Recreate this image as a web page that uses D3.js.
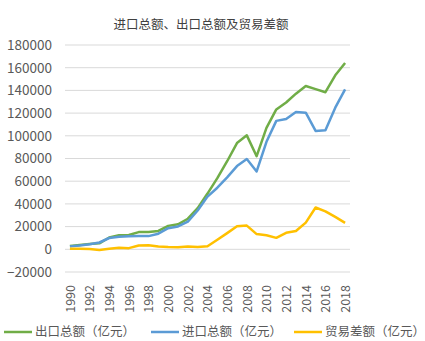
<!DOCTYPE html>
<html>
<head>
<meta charset="utf-8">
<script src="https://cdn.jsdelivr.net/npm/d3@7"></script>
<style>
  body { margin: 0; background: #fff; }
  svg text { font-family: "Noto Sans CJK SC", "Noto Sans", sans-serif; }
</style>
</head>
<body>
<div id="chart"></div>
<script>
// data (亿元)
const years = d3.range(1990, 2019);
const exports = [2986, 3827, 4676, 5285, 10422, 12452, 12576, 15161, 15224, 16160,
  20634, 22024, 26948, 36288, 49103, 62648, 77597, 93627, 100395, 82030,
  107023, 123241, 129359, 137131, 143884, 141167, 138419, 153309, 164128];
const imports = [2574, 3399, 4443, 5986, 9960, 11048, 11557, 11807, 11626, 13736,
  18639, 20159, 24430, 34196, 46436, 54274, 63377, 73300, 79527, 68618,
  94700, 113161, 114801, 121038, 120358, 104336, 104967, 124790, 140874];
const balance = [412, 428, 233, -701, 462, 1404, 1019, 3354, 3598, 2423,
  1996, 1865, 2518, 2092, 2668, 8374, 14220, 20327, 20868, 13411,
  12323, 10079, 14558, 16094, 23526, 36831, 33452, 28520, 23303];
const yTicks = [-20000, 0, 20000, 40000, 60000, 80000, 100000, 120000, 140000, 160000, 180000];
const xTicks = years.filter(y => y % 2 === 0);

const series = [
  { name: '出口总额（亿元）', values: exports, color: '#70AD47' },
  { name: '进口总额（亿元）', values: imports, color: '#5B9BD5' },
  { name: '贸易差额（亿元）', values: balance, color: '#FFC000' }
];

const width = 425, height = 341;
const plot = { left: 65, right: 350, top: 45, bottom: 272 };

const svg = d3.select('#chart').append('svg')
  .attr('width', width)
  .attr('height', height);

const x = d3.scalePoint()
  .domain(years)
  .range([plot.left, plot.right])
  .padding(0.5);

const y = d3.scaleLinear()
  .domain([-20000, 180000])
  .range([plot.bottom, plot.top]);

// title
svg.append('text')
  .attr('x', 201)
  .attr('y', 29)
  .attr('text-anchor', 'middle')
  .attr('font-size', 12.5)
  .attr('fill', '#404040')
  .text('进口总额、出口总额及贸易差额');

// gridlines
svg.append('g').selectAll('line')
  .data(yTicks)
  .join('line')
  .attr('x1', plot.left)
  .attr('x2', plot.right)
  .attr('y1', d => y(d))
  .attr('y2', d => y(d))
  .attr('stroke', '#D9D9D9')
  .attr('stroke-width', 1);

// y axis labels
const yAxis = svg.append('g')
  .attr('transform', `translate(${plot.left - 13},0)`)
  .call(d3.axisLeft(y).tickValues(yTicks).tickSize(0).tickPadding(0).tickFormat(d3.format('d')));
yAxis.select('.domain').remove();
yAxis.selectAll('text')
  .attr('font-size', 13.5)
  .attr('fill', '#595959')
  .attr('font-family', '"Noto Sans CJK SC", sans-serif');

// x axis labels (rotated)
const xAxis = svg.append('g')
  .attr('transform', `translate(0,${plot.bottom + 13})`)
  .call(d3.axisBottom(x).tickValues(xTicks).tickSize(0).tickPadding(0));
xAxis.select('.domain').remove();
xAxis.selectAll('text')
  .attr('font-size', 12.5)
  .attr('fill', '#595959')
  .attr('font-family', '"Noto Sans CJK SC", sans-serif')
  .attr('text-anchor', 'end')
  .attr('dy', '0.35em')
  .attr('transform', 'rotate(-90)');

// lines
const line = d3.line()
  .x((d, i) => x(years[i]))
  .y(d => y(d));

svg.append('g').selectAll('path')
  .data(series)
  .join('path')
  .attr('d', d => line(d.values))
  .attr('fill', 'none')
  .attr('stroke', d => d.color)
  .attr('stroke-width', 2.5)
  .attr('stroke-linejoin', 'round');

// legend
const legendX = [4, 151, 294];
const legend = svg.append('g').selectAll('g')
  .data(series)
  .join('g')
  .attr('transform', (d, i) => `translate(${legendX[i]},332)`);
legend.append('line')
  .attr('x1', 0)
  .attr('x2', 28)
  .attr('stroke', d => d.color)
  .attr('stroke-width', 2.5);
legend.append('text')
  .attr('x', 31)
  .attr('dy', '0.35em')
  .attr('font-size', 12.5)
  .attr('fill', '#595959')
  .text(d => d.name);
</script>
</body>
</html>
